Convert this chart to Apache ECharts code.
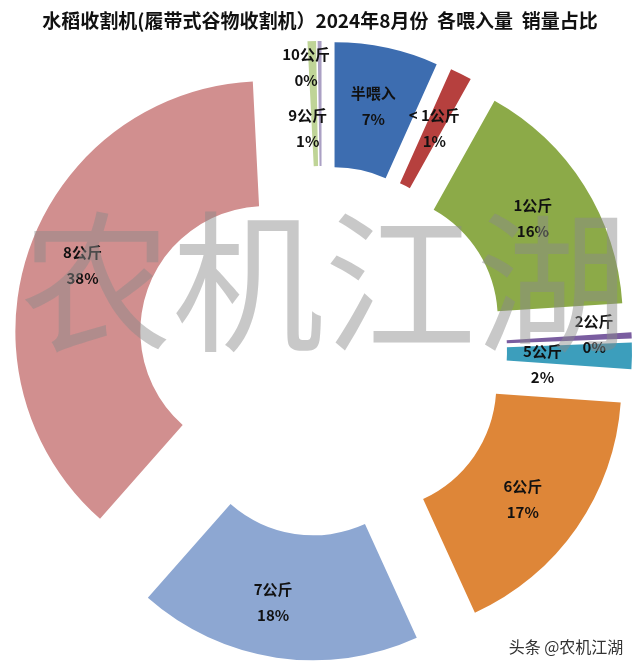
<!DOCTYPE html>
<html>
<head>
<meta charset="utf-8">
<style>
  html, body { margin: 0; padding: 0; background: #fff; }
  #chart { width: 640px; height: 668px; }
</style>
<script src="https://cdn.jsdelivr.net/npm/echarts@6/dist/echarts.min.js"></script>
</head>
<body>
<div id="chart"></div>
<script>
// ---- data ----
const categories = ['半喂入', '< 1公斤', '1公斤', '2公斤', '5公斤', '6公斤', '7公斤', '8公斤', '9公斤', '10公斤'];
const shares = [6.7, 1.4, 15.9, 0.4, 1.7, 17.1, 18.3, 37.7, 0.55, 0.25];
const titleText = '水稻收割机(履带式谷物收割机）2024年8月份  各喂入量  销量占比';

// ---- styles ----
const colors = ['#3D6DB0', '#B6403E', '#8CAA48', '#7A5DA0', '#3C9EBC', '#DE8638', '#8DA7D2', '#D18F8F', '#BFD497', '#ABA0C4'];
const labelDx = [-1, 0, -1, 22, -30, -5, -12, -3, -6, -14];
const labelDy = [0, 1, 1, -4, 9, 6, 4, -3, 28, -33];
const cjk = '"Noto Sans CJK SC", "Microsoft YaHei", sans-serif';

const chart = echarts.init(document.getElementById('chart'), null, { renderer: 'canvas' });

chart.setOption({
  animation: false,
  backgroundColor: '#ffffff',
  title: {
    text: titleText,
    left: 'center',
    top: 6,
    textStyle: { fontFamily: cjk, fontSize: 19, fontWeight: 'bold', color: '#111' }
  },
  series: [{
    type: 'pie',
    center: [322, 351],
    radius: [125, 250],
    startAngle: 90,
    clockwise: true,
    selectedMode: 'multiple',
    selectedOffset: 60,
    avoidLabelOverlap: false,
    percentPrecision: 2,
    emphasis: { disabled: true, scale: false },
    itemStyle: { borderWidth: 0 },
    label: {
      show: true,
      position: 'inside',
      fontFamily: cjk,
      fontSize: 15,
      fontWeight: 'bold',
      color: '#111',
      lineHeight: 26,
      formatter: p => p.name + '\n' + Math.round(p.percent) + '%'
    },
    labelLine: { show: false },
    labelLayout: p => ({ dx: labelDx[p.dataIndex], dy: labelDy[p.dataIndex] }),
    data: categories.map((c, i) => ({
      name: c,
      value: shares[i],
      selected: true,
      itemStyle: { color: colors[i] }
    }))
  }],
  graphic: [
    {
      type: 'text',
      z: 100,
      silent: true,
      x: 324,
      y: 282,
      style: {
        text: '农机江湖',
        font: 'normal 152px ' + cjk,
        fill: 'rgba(138,138,138,0.47)',
        align: 'center',
        verticalAlign: 'middle'
      }
    },
    {
      type: 'text',
      z: 100,
      silent: true,
      x: 566,
      y: 647,
      style: {
        text: '头条 @农机江湖',
        font: 'normal 16px ' + cjk,
        fill: '#333',
        align: 'center',
        verticalAlign: 'middle'
      }
    }
  ]
});
</script>
</body>
</html>
